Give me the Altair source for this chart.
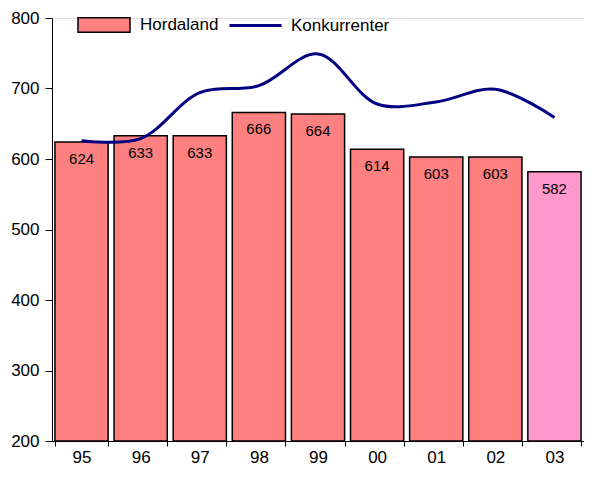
import altair as alt
import pandas as pd

years = ["95", "96", "97", "98", "99", "00", "01", "02", "03"]
hordaland = [624, 633, 633, 666, 664, 614, 603, 603, 582]
konkurrenter = [626, 629, 694, 704, 749, 678, 681, 699, 659]
bar_group = ["Hordaland"] * 8 + ["Hordaland 2003"]
y_ticks = [200, 300, 400, 500, 600, 700, 800]

df = pd.DataFrame({
    "year": years,
    "hordaland": hordaland,
    "konk": konkurrenter,
    "group": bar_group,
    "line": ["Konkurrenter"] * len(years),
})

FONT = "Liberation Sans"

x = alt.X("year:N", sort=years, title=None,
          scale=alt.Scale(paddingInner=0.1, paddingOuter=0.05),
          axis=alt.Axis(labelAngle=0, tickBand="extent", tickSize=5,
                        labelPadding=3, labelFontSize=17, labelFont=FONT,
                        labelColor="black", domainColor="black",
                        tickColor="black", grid=False))

y_scale = alt.Scale(domain=[200, 800], nice=False, zero=False)

base = alt.Chart(df)

bars = base.mark_bar(stroke="black", strokeWidth=1.5).encode(
    x=x,
    y=alt.Y("hordaland:Q", scale=y_scale, title=None,
            axis=alt.Axis(values=y_ticks, tickSize=7, labelPadding=6,
                          labelFontSize=17, labelFont=FONT,
                          labelColor="black", domainColor="black",
                          tickColor="black", grid=False)),
    y2=alt.datum(200),
    fill=alt.Fill("group:N",
                  scale=alt.Scale(domain=["Hordaland", "Hordaland 2003"],
                                  range=["#FF8080", "#FF99CC"]),
                  legend=alt.Legend(values=["Hordaland"], title=None,
                                    orient="none", legendX=25, legendY=-20,
                                    padding=0,
                                    symbolType="M-1,-0.28L1,-0.28L1,0.28L-1,0.28Z",
                                    symbolSize=2704, symbolStrokeColor="black",
                                    symbolStrokeWidth=1.5, symbolOpacity=1,
                                    labelFontSize=17, labelFont=FONT,
                                    labelColor="black", labelOffset=9)),
)

labels = base.mark_text(baseline="middle", dy=17, fontSize=15, font=FONT,
                        color="black").encode(
    x=alt.X("year:N", sort=years),
    y=alt.Y("hordaland:Q", scale=y_scale),
    text=alt.Text("hordaland:Q"),
)

line = base.mark_line(interpolate="catmull-rom", strokeWidth=3).encode(
    x=alt.X("year:N", sort=years),
    y=alt.Y("konk:Q", scale=y_scale),
    stroke=alt.Stroke("line:N",
                      scale=alt.Scale(domain=["Konkurrenter"], range=["#000080"]),
                      legend=alt.Legend(title=None, orient="none",
                                        legendX=176, legendY=-20, padding=0,
                                        symbolType="stroke", symbolSize=2704,
                                        symbolStrokeWidth=3,
                                        labelFontSize=17, labelFont=FONT,
                                        labelColor="black", labelOffset=8)),
)

chart = alt.layer(bars, labels, line).resolve_scale(
    fill="independent", stroke="independent"
).properties(
    width=532, height=423,
    autosize=alt.AutoSizeParams(type="none"),
    padding={"left": 44, "top": 10, "right": 0, "bottom": 26},
).configure_view(stroke=None).configure(background="white")

chart.save("out.html", embed_options={"renderer": "svg", "actions": False})
